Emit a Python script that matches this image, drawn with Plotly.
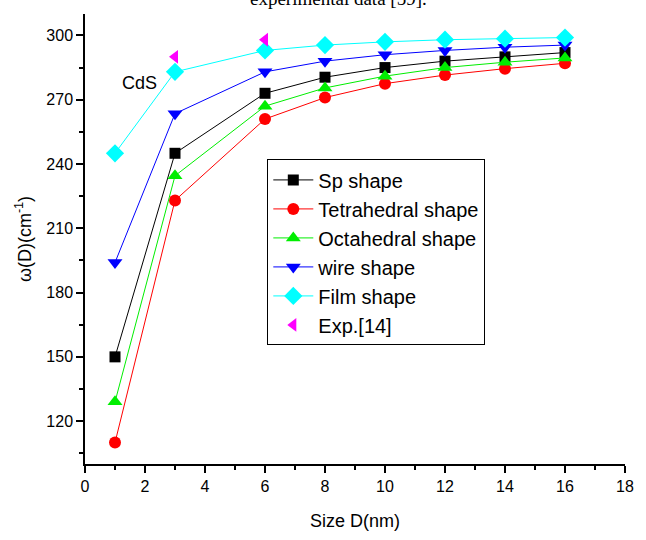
import plotly.graph_objects as go

sizes = [1, 3, 6, 8, 10, 12, 14, 16]
sp_shape = [150, 245, 273, 280.5, 285, 288, 290, 292]
tetra_shape = [110, 223, 261, 271, 277.5, 281.5, 284.5, 287]
octa_shape = [129, 234.5, 267, 275.5, 281, 285, 287.5, 289.5]
wire_shape = [194, 263.5, 283, 288, 291, 293, 294.5, 295.5]
film_shape = [245, 283, 293, 295.5, 297, 298, 298.5, 299]
exp_sizes = [3, 6]
exp_values = [290, 298]

series = [
    ("Sp shape", sp_shape, "black", "square", 11),
    ("Tetrahedral shape", tetra_shape, "red", "circle", 12),
    ("Octahedral shape", octa_shape, "#00ee00", "triangle-up", 13),
    ("wire shape", wire_shape, "blue", "triangle-down", 13),
    ("Film shape", film_shape, "cyan", "diamond", 14),
]

fig = go.Figure()
for name, vals, col, sym, sz in series:
    fig.add_trace(go.Scatter(
        x=sizes, y=vals, name=name, mode="lines+markers",
        line=dict(color=col, width=1),
        marker=dict(symbol=sym, size=sz, color=col),
    ))
fig.add_trace(go.Scatter(
    x=exp_sizes, y=exp_values, name="Exp.[14]", mode="markers",
    marker=dict(symbol="triangle-left", size=12, color="magenta"),
))

font_main = "Liberation Sans, Arial, sans-serif"

fig.update_layout(
    width=646, height=540,
    margin=dict(l=85, r=13, t=14, b=68),
    plot_bgcolor="white", paper_bgcolor="white",
    font=dict(family=font_main, size=16, color="black"),
    showlegend=True,
    legend=dict(
        x=(270 - 85) / 548, y=1 - (162 - 14) / 458,
        xanchor="left", yanchor="top",
        bordercolor="black", borderwidth=1, bgcolor="white",
        font=dict(family=font_main, size=20, color="black"),
        itemwidth=40,
    ),
    xaxis=dict(
        range=[0, 18], tickmode="linear", tick0=0, dtick=2,
        showgrid=False, zeroline=False, showline=True, linecolor="black", linewidth=1.5,
        ticks="outside", ticklen=7, tickwidth=1.5, tickcolor="black",
        minor=dict(dtick=1, ticks="outside", ticklen=4, tickwidth=1.5, tickcolor="black"),
        title=dict(text="Size D(nm)", font=dict(size=18), standoff=20),
        tickfont=dict(size=16),
    ),
    yaxis=dict(
        range=[100, 310], tickmode="linear", tick0=120, dtick=30,
        showgrid=False, zeroline=False, showline=True, linecolor="black", linewidth=1.5,
        ticks="outside", ticklen=7, tickwidth=1.5, tickcolor="black",
        minor=dict(tick0=105, dtick=15, ticks="outside", ticklen=4, tickwidth=1.5, tickcolor="black"),
        title=dict(text="ω(D)(cm<sup>-1</sup>)", font=dict(size=18), standoff=10),
        tickfont=dict(size=16),
    ),
    annotations=[
        dict(x=1.8, y=278, xref="x", yref="y", text="CdS", showarrow=False,
             font=dict(size=18, family=font_main)),
        dict(x=0.47, y=1, xref="paper", yref="paper", yanchor="bottom", yshift=3,
             text="experimental data [59].", showarrow=False,
             font=dict(size=19, family="Liberation Serif, Times New Roman, serif")),
    ],
)

fig.write_html("out.html")
